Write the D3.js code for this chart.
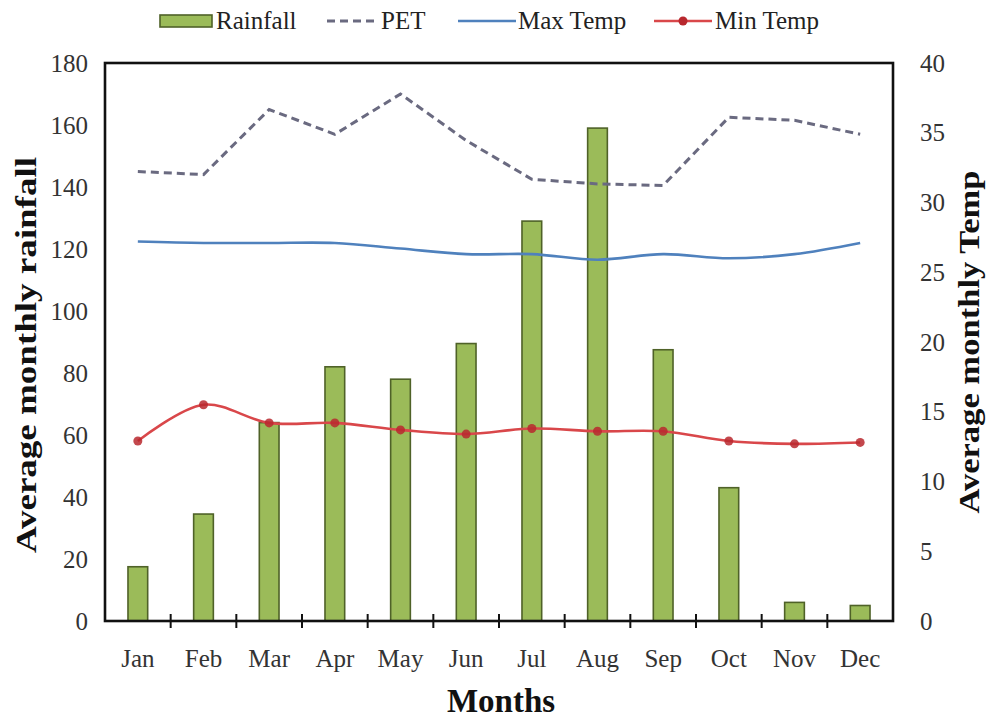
<!DOCTYPE html>
<html>
<head>
<meta charset="utf-8">
<script src="https://cdn.jsdelivr.net/npm/d3@7"></script>
<style>
  html, body { margin: 0; padding: 0; background: #ffffff; }
  svg { display: block; }
  text { font-family: "Liberation Serif", "Times New Roman", serif; }
</style>
</head>
<body>
<svg id="chart" width="987" height="721"></svg>
<script>
// ---- data ----
const months = ["Jan","Feb","Mar","Apr","May","Jun","Jul","Aug","Sep","Oct","Nov","Dec"];
const rainfall = [17.5, 34.5, 64, 82, 78, 89.5, 129, 159, 87.5, 43, 6, 5];
const pet = [145, 144, 165, 157, 170, 155, 142.5, 141, 140.5, 162.5, 161.5, 157];
const maxTemp = [27.2, 27.1, 27.1, 27.1, 26.7, 26.3, 26.3, 25.9, 26.3, 26.0, 26.3, 27.1];
const minTemp = [12.9, 15.5, 14.2, 14.2, 13.7, 13.4, 13.8, 13.6, 13.6, 12.9, 12.7, 12.8];
const leftTicks = [0, 20, 40, 60, 80, 100, 120, 140, 160, 180];
const rightTicks = [0, 5, 10, 15, 20, 25, 30, 35, 40];
const legendLabels = ["Rainfall", "PET", "Max Temp", "Min Temp"];

// ---- layout ----
const L = 105, R = 893, T = 63, B = 621;
const svg = d3.select("#chart");

const x = d3.scaleBand().domain(months).range([L, R]).padding(0);
const yL = d3.scaleLinear().domain([0, 180]).range([B, T]);
const yR = d3.scaleLinear().domain([0, 40]).range([B, T]);

const barFill = "#9bbb59", barStroke = "#4f6228";
const petColor = "#6a6a80", maxColor = "#4f81bd", minColor = "#d9474a", minMarker = "#b8282e";

// bars
const bw = x.bandwidth() * 0.3;
svg.append("g").selectAll("rect").data(months).join("rect")
  .attr("x", d => x(d) + x.bandwidth() / 2 - bw / 2)
  .attr("y", (d, i) => yL(rainfall[i]))
  .attr("width", bw)
  .attr("height", (d, i) => B - yL(rainfall[i]))
  .attr("fill", barFill)
  .attr("stroke", barStroke)
  .attr("stroke-width", 1.6);

const cx = d => x(d) + x.bandwidth() / 2;

// PET (left axis), straight dashed
const petLine = d3.line().x((d, i) => cx(months[i])).y(d => yL(d));
svg.append("path").datum(pet)
  .attr("d", petLine)
  .attr("fill", "none")
  .attr("stroke", petColor)
  .attr("stroke-width", 3)
  .attr("stroke-dasharray", "8,5");

// Max temp (right axis), smooth
const smooth = d3.line().x((d, i) => cx(months[i])).y(d => yR(d)).curve(d3.curveCatmullRom.alpha(0.5));
svg.append("path").datum(maxTemp)
  .attr("d", smooth)
  .attr("fill", "none")
  .attr("stroke", maxColor)
  .attr("stroke-width", 2.6);

// Min temp (right axis), smooth with markers
svg.append("path").datum(minTemp)
  .attr("d", smooth)
  .attr("fill", "none")
  .attr("stroke", minColor)
  .attr("stroke-width", 2.6);
svg.append("g").selectAll("circle").data(minTemp).join("circle")
  .attr("cx", (d, i) => cx(months[i]))
  .attr("cy", d => yR(d))
  .attr("r", 4.5)
  .attr("fill", minMarker)
  .attr("fill-opacity", 0.85);

// frame
svg.append("rect")
  .attr("x", L).attr("y", T).attr("width", R - L).attr("height", B - T)
  .attr("fill", "none").attr("stroke", "#111").attr("stroke-width", 2.6);

// cross ticks at category boundaries
svg.append("g").selectAll("line").data(months.slice(1)).join("line")
  .attr("x1", d => x(d)).attr("x2", d => x(d))
  .attr("y1", B - 7).attr("y2", B + 7)
  .attr("stroke", "#111").attr("stroke-width", 2);

// axes
const tickFont = 25;
const gl = svg.append("g").attr("transform", `translate(${L},0)`)
  .call(d3.axisLeft(yL).tickValues(leftTicks).tickSize(0).tickPadding(17));
const gr = svg.append("g").attr("transform", `translate(${R},0)`)
  .call(d3.axisRight(yR).tickValues(rightTicks).tickSize(0).tickPadding(27));
const gb = svg.append("g").attr("transform", `translate(0,${B})`)
  .call(d3.axisBottom(x).tickSize(0).tickPadding(28));
[gl, gr, gb].forEach(g => {
  g.select(".domain").remove();
  g.selectAll("text").attr("font-size", tickFont).attr("fill", "#333")
    .style("font-family", '"Liberation Serif", "Times New Roman", serif');
});

// axis titles
svg.append("text")
  .attr("transform", "translate(36,355) rotate(-90)")
  .attr("text-anchor", "middle")
  .attr("font-size", 30).attr("font-weight", "bold").attr("fill", "#111")
  .attr("textLength", 396).attr("lengthAdjust", "spacingAndGlyphs")
  .text("Average monthly rainfall");
svg.append("text")
  .attr("transform", "translate(979,342) rotate(-90)")
  .attr("text-anchor", "middle")
  .attr("font-size", 30).attr("font-weight", "bold").attr("fill", "#111")
  .attr("textLength", 343).attr("lengthAdjust", "spacingAndGlyphs")
  .text("Average monthly Temp");
svg.append("text")
  .attr("x", 501).attr("y", 712)
  .attr("text-anchor", "middle")
  .attr("font-size", 33).attr("font-weight", "bold").attr("fill", "#111")
  .text("Months");

// legend
const ly = 21;
const lg = svg.append("g");
lg.append("rect").attr("x", 160).attr("y", ly - 6).attr("width", 52).attr("height", 12)
  .attr("fill", barFill).attr("stroke", barStroke).attr("stroke-width", 1.6);
lg.append("line").attr("x1", 327).attr("x2", 378).attr("y1", ly).attr("y2", ly)
  .attr("stroke", petColor).attr("stroke-width", 3).attr("stroke-dasharray", "8,5");
lg.append("line").attr("x1", 458).attr("x2", 516).attr("y1", ly).attr("y2", ly)
  .attr("stroke", maxColor).attr("stroke-width", 2.6);
lg.append("line").attr("x1", 654).attr("x2", 712).attr("y1", ly).attr("y2", ly)
  .attr("stroke", minColor).attr("stroke-width", 2.6);
lg.append("circle").attr("cx", 683).attr("cy", ly).attr("r", 4.5).attr("fill", minMarker);
const legX = [216, 381, 518, 715];
lg.selectAll("text.leg").data(legendLabels).join("text").attr("class", "leg")
  .attr("x", (d, i) => legX[i]).attr("y", ly + 8)
  .attr("font-size", 25).attr("fill", "#222")
  .text(d => d);
</script>
</body>
</html>
